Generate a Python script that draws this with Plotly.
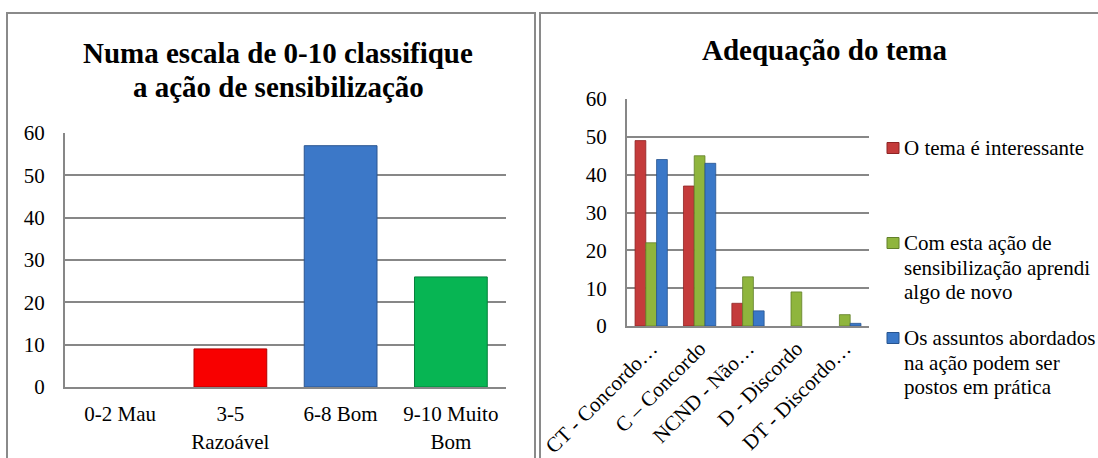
import plotly.graph_objects as go

W, H = 1098, 458

# ---- data: left chart ----
scale_labels = ["0-2 Mau", "3-5<br>Razoável", "6-8 Bom", "9-10 Muito<br>Bom"]
scale_values = [0, 9, 57, 26]
scale_colors = ["#7F7F7F", "#F80000", "#3C78C8", "#07B553"]
scale_edges = ["#5F5F5F", "#B00000", "#2A5590", "#04803B"]

# ---- data: right chart ----
theme_cats = ["CT - Concordo…", "C – Concordo", "NCND - Não…", "D - Discordo", "DT - Discordo…"]
s1_name = ["O tema é interessante"]
s2_name = ["Com esta ação de", "sensibilização aprendi", "algo de novo"]
s3_name = ["Os assuntos abordados", "na ação podem ser", "postos em prática"]
s1_vals = [49, 37, 6, 0, 0]
s2_vals = [22, 45, 13, 9, 3]
s3_vals = [44, 43, 4, 0, 0.7]
s_colors = ["#C43B3B", "#8FB53D", "#3A78C8"]
s_edges = ["#8E2424", "#62802A", "#27548F"]

FONT = "Liberation Serif"
GRID = "#878787"


def px_x(x):
    return x / W


def px_y(y):
    return 1 - y / H


fig = go.Figure()

fig.add_trace(go.Bar(
    x=scale_labels, y=scale_values, width=0.66,
    marker=dict(color=scale_colors,
                line=dict(color=scale_edges, width=[1 if v > 0 else 0 for v in scale_values])),
    xaxis="x", yaxis="y", showlegend=False,
))

for vals, col, edge, nm in [(s1_vals, s_colors[0], s_edges[0], " ".join(s1_name)),
                            (s2_vals, s_colors[1], s_edges[1], " ".join(s2_name)),
                            (s3_vals, s_colors[2], s_edges[2], " ".join(s3_name))]:
    fig.add_trace(go.Bar(
        x=theme_cats, y=vals, name=nm,
        marker=dict(color=col, line=dict(color=edge, width=[0.8 if v > 0 else 0 for v in vals])),
        xaxis="x2", yaxis="y2", showlegend=False,
    ))

axis_common = dict(
    showline=True, linecolor=GRID, linewidth=2, mirror=False,
    zeroline=False, ticks="", automargin=False,
    tickfont=dict(family=FONT, size=21, color="#000000"),
)

fig.update_layout(
    width=W, height=H, autosize=False,
    margin=dict(l=0, r=0, t=0, b=0, pad=0),
    paper_bgcolor="white", plot_bgcolor="white",
    barmode="group", bargap=0.333, bargroupgap=0.0,
    font=dict(family=FONT, color="#000000"),
    xaxis=dict(domain=[px_x(65), px_x(506)], anchor="y", type="category",
               showgrid=False, ticklabelstandoff=7, **axis_common),
    yaxis=dict(domain=[px_y(387), px_y(133)], anchor="x", range=[0, 60],
               dtick=10, showgrid=True, gridcolor=GRID, gridwidth=1.5,
               ticklabelstandoff=14, **axis_common),
    xaxis2=dict(domain=[px_x(627), px_x(869)], anchor="y2", type="category",
                showgrid=False, tickangle=-45, ticklabelstandoff=0, **axis_common),
    yaxis2=dict(domain=[px_y(326), px_y(99)], anchor="x2", range=[0, 60],
                dtick=10, showgrid=True, gridcolor=GRID, gridwidth=1.5,
                ticklabelstandoff=14, **axis_common),
)

# frames
fig.add_shape(type="rect", xref="paper", yref="paper",
              x0=px_x(7), x1=px_x(535), y0=-0.05, y1=px_y(13),
              line=dict(color="#8A8A8A", width=2), layer="below")
fig.add_shape(type="rect", xref="paper", yref="paper",
              x0=px_x(540), x1=1.05, y0=-0.05, y1=px_y(13),
              line=dict(color="#8A8A8A", width=2), layer="below")

# titles
fig.add_annotation(xref="paper", yref="paper", x=px_x(278), y=px_y(53),
                   text="<b>Numa escala de 0-10 classifique</b>", showarrow=False,
                   font=dict(family=FONT, size=29), xanchor="center", yanchor="middle")
fig.add_annotation(xref="paper", yref="paper", x=px_x(278), y=px_y(87),
                   text="<b>a ação de sensibilização</b>", showarrow=False,
                   font=dict(family=FONT, size=29), xanchor="center", yanchor="middle")
fig.add_annotation(xref="paper", yref="paper", x=px_x(824), y=px_y(50),
                   text="<b>Adequação do tema</b>", showarrow=False,
                   font=dict(family=FONT, size=29), xanchor="center", yanchor="middle")

# legend (manual)
legend_items = [(s1_name, 148), (s2_name, 243), (s3_name, 338)]
for (lines, y0), col, edge in zip(legend_items, s_colors, s_edges):
    fig.add_shape(type="rect", xref="paper", yref="paper",
                  x0=px_x(887), x1=px_x(899), y0=px_y(y0 + 5.5), y1=px_y(y0 - 5.5),
                  fillcolor=col, line=dict(color=edge, width=1))
    for i, ln in enumerate(lines):
        fig.add_annotation(xref="paper", yref="paper", x=px_x(902), y=px_y(y0 + 24.5 * i),
                           text=ln, showarrow=False, xanchor="left", yanchor="middle",
                           font=dict(family=FONT, size=21))

fig.write_html(
    "out.html",
    config={"displayModeBar": False},
    post_script="document.body.style.margin='0';document.body.style.overflow='hidden';",
)
